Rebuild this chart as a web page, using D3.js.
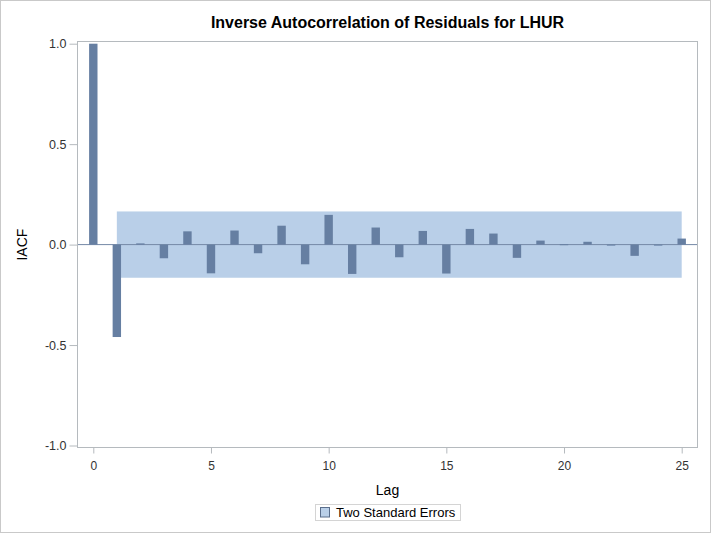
<!DOCTYPE html>
<html><head><meta charset="utf-8">
<script src="https://cdn.jsdelivr.net/npm/d3@7"></script>
<style>body{margin:0;background:#fff}svg{display:block;font-family:"Liberation Sans",Arial,sans-serif}</style>
</head><body>
<svg id="c" width="711" height="533"></svg>
<script>
const lags = d3.range(0, 26);
const iacf = [1.0, -0.46, 0.006, -0.068, 0.066, -0.143, 0.07, -0.043, 0.094, -0.098,
  0.148, -0.146, 0.085, -0.063, 0.068, -0.144, 0.078, 0.055, -0.066, 0.02,
  0.002, 0.014, -0.002, -0.056, -0.002, 0.03];
const stdErrUpper = 0.165, stdErrLower = -0.165;
const bandStart = 1, bandEnd = 25;
const xTicks = [0, 5, 10, 15, 20, 25];
const yTicks = [-1.0, -0.5, 0.0, 0.5, 1.0];
const title = "Inverse Autocorrelation of Residuals for LHUR";

const svg = d3.select("#c");
const W = 711, H = 533;
const frame = {l: 77.5, t: 41.5, r: 697.5, b: 447.5};
const x = d3.scaleLinear().domain([0, 25]).range([93.3, 681.7]);
const y = d3.scaleLinear().domain([-1, 1]).range([445.5, 43.7]);
const fmtY = d => d3.format(".1f")(d).replace("\u2212", "-");

// outer border
svg.append("rect").attr("x", 0.5).attr("y", 0.5).attr("width", W - 1).attr("height", H - 1)
  .attr("fill", "#fff").attr("stroke", "#c9c9c9");

// band
svg.append("rect").attr("x", x(bandStart)).attr("y", y(stdErrUpper))
  .attr("width", x(bandEnd) - x(bandStart)).attr("height", y(stdErrLower) - y(stdErrUpper))
  .attr("fill", "#b9cfe8");

// zero line
svg.append("line").attr("x1", frame.l).attr("x2", frame.r).attr("y1", y(0)).attr("y2", y(0))
  .attr("stroke", "#7488a6").attr("stroke-width", 1);

// bars
const bw = 8.4;
svg.append("g").selectAll("rect").data(lags).join("rect")
  .attr("x", d => x(d) - bw / 2)
  .attr("y", d => y(Math.max(0, iacf[d])))
  .attr("width", bw)
  .attr("height", d => Math.max(1, Math.abs(y(iacf[d]) - y(0))))
  .attr("fill", "#667fa2");

// frame
svg.append("rect").attr("x", frame.l).attr("y", frame.t)
  .attr("width", frame.r - frame.l).attr("height", frame.b - frame.t)
  .attr("fill", "none").attr("stroke", "#b5babe").attr("stroke-width", 1);

// y axis
const ya = svg.append("g").attr("transform", `translate(${frame.l},0)`)
  .call(d3.axisLeft(y).tickValues(yTicks).tickFormat(fmtY).tickSize(8).tickPadding(3));
ya.select(".domain").remove();
ya.selectAll(".tick line").attr("stroke", "#b5babe");
ya.selectAll(".tick text").attr("font-size", 12.5).attr("fill", "#333").attr("font-family", "Liberation Sans, Arial, sans-serif");

// x axis
const xa = svg.append("g").attr("transform", `translate(0,${frame.b})`)
  .call(d3.axisBottom(x).tickValues(xTicks).tickFormat(d3.format("d")).tickSize(6).tickPadding(8));
xa.select(".domain").remove();
xa.selectAll(".tick line").attr("stroke", "#b5babe");
xa.selectAll(".tick text").attr("font-size", 12).attr("fill", "#333").attr("font-family", "Liberation Sans, Arial, sans-serif");

// title
svg.append("text").attr("x", 387.5).attr("y", 27.5).attr("text-anchor", "middle")
  .attr("font-weight", "bold").attr("font-size", 16).attr("fill", "#000").text(title);

// axis labels
svg.append("text").attr("x", 387.5).attr("y", 495).attr("text-anchor", "middle")
  .attr("font-size", 14).attr("fill", "#000").text("Lag");
svg.append("text").attr("transform", `translate(27,${y(0)}) rotate(-90)`).attr("text-anchor", "middle")
  .attr("font-size", 14).attr("fill", "#000").text("IACF");

// legend
const lg = svg.append("g");
lg.append("rect").attr("x", 315.5).attr("y", 504.5).attr("width", 145).attr("height", 16)
  .attr("fill", "#fff").attr("stroke", "#d4d4d4");
lg.append("rect").attr("x", 320.5).attr("y", 507.5).attr("width", 9).attr("height", 9.5)
  .attr("fill", "#b9cfe8").attr("stroke", "#5a6e8c").attr("stroke-width", 1);
lg.append("text").attr("x", 336).attr("y", 517.3).attr("font-size", 13).attr("fill", "#000")
  .text("Two Standard Errors");
</script>
</body></html>
